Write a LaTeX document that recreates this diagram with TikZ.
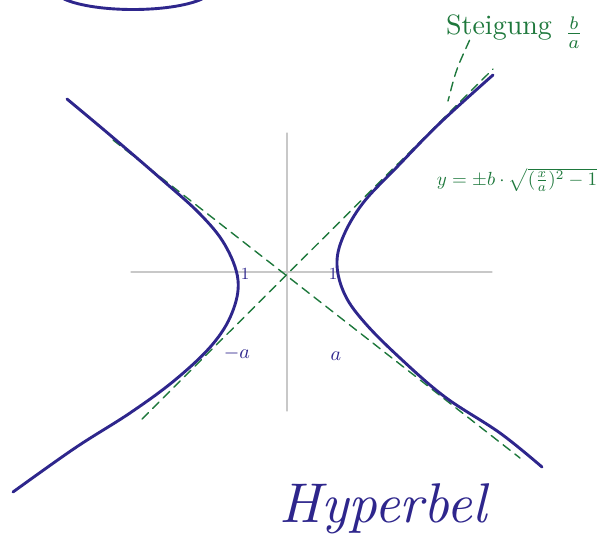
\documentclass[tikz,border=0pt]{standalone}
\definecolor{inkblue}{RGB}{46,38,140}
\definecolor{inkgreen}{RGB}{30,120,60}
\definecolor{axisgray}{RGB}{200,200,200}
\begin{document}
\begin{tikzpicture}[x=1pt, y=-1pt, line cap=round, line join=round,
  branch/.style={draw=inkblue, line width=2.9pt},
  asym/.style={draw=inkgreen, line width=1.4pt, dash pattern=on 9pt off 6pt},
  axisline/.style={draw=axisgray, line width=1.1pt},
  greentext/.style={text=inkgreen, inner sep=0pt},
  bluetext/.style={text=inkblue, inner sep=0pt}]
  \useasboundingbox (0,0) rectangle (608,547);
  % ellipse cut off at the top
  \draw[branch] (64,-1) .. controls (95,13) and (171,13) .. (202,-1);
  % axes
  \draw[axisline] (131,272) -- (492,272);
  \draw[axisline] (287,133) -- (287,411);
  % asymptotes
  \draw[asym] (142,419) -- (493,69);
  \draw[asym] (113,140) -- (520,458);
  % branches
  \draw[branch] plot[smooth, tension=0.6] coordinates {(67,99) (110,135) (160,178) (200,214) (225,245) (238,280) (232,313) (212,345) (175,380) (130,413) (75,448) (13,492)};
  \draw[branch] plot[smooth, tension=0.6] coordinates {(493,75) (440,123) (397,167) (363,203) (343,237) (337,265) (345,295) (365,323) (400,358) (445,397) (500,433) (542,467)};
  % labels
  \node[bluetext, scale=1.7] (oneleft) at (245,274) {1};
  \node[bluetext, scale=1.7] (oneright) at (333,274) {1};
  \node[bluetext, scale=2] (minusa) at (237,353) {$-a$};
  \node[bluetext, scale=2] (plusa) at (336,356) {$a$};
  \node[greentext, scale=2.8, anchor=base] (steig) at (499,34) {Steigung};
  \node[greentext, scale=2.6] (slope) at (574,33) {$\frac{b}{a}$};
  \node[greentext, scale=1.9] (formula) at (517,180) {$y=\pm b\cdot\sqrt{(\frac{x}{a})^2-1}$};
  \node[bluetext, scale=5.6, anchor=base] (title) at (383,522) {\itshape Hyperbel};
  \coordinate (lead) at (448,101);
  \draw[asym] ([xshift=24pt]steig.south west) .. controls (456,70) .. (lead);
\end{tikzpicture}
\end{document}
